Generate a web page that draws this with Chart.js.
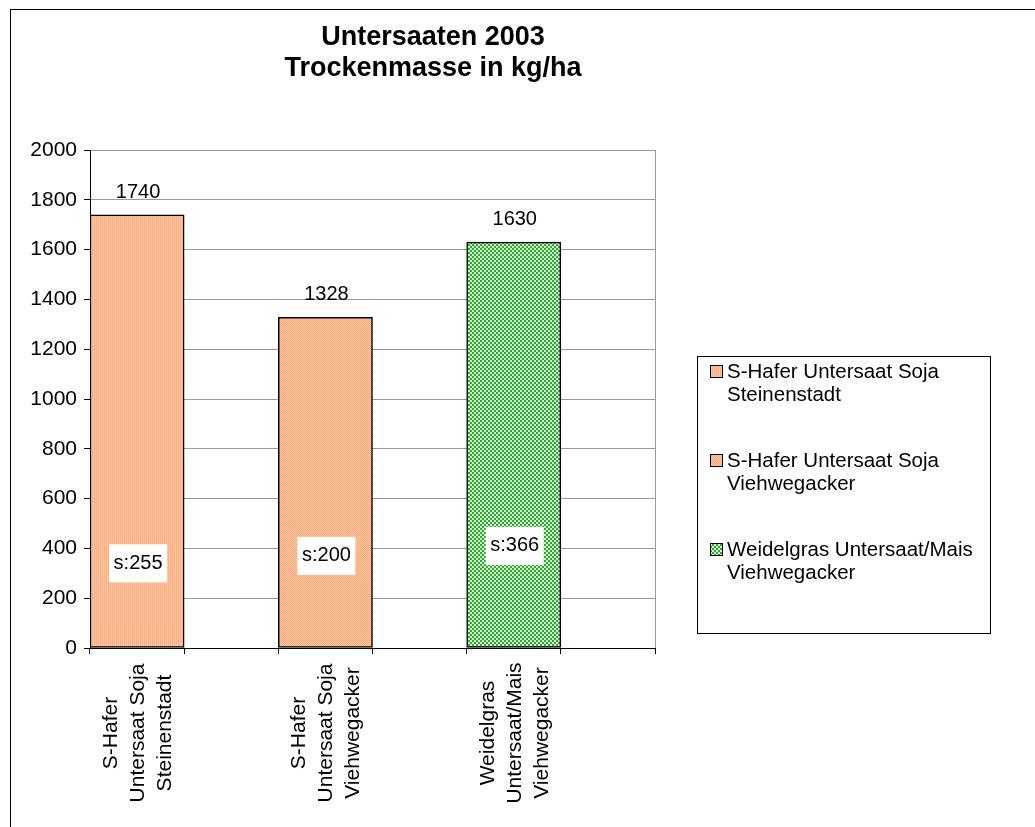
<!DOCTYPE html>
<html>
<head>
<meta charset="utf-8">
<script src="https://cdn.jsdelivr.net/npm/chart.js@4.4.1/dist/chart.umd.min.js"></script>
<style>
html,body{margin:0;padding:0;background:#fff;}
#wrap{position:relative;width:1035px;height:827px;}
canvas{display:block;}
</style>
</head>
<body>
<div id="wrap"><canvas id="c" width="1035" height="827"></canvas></div>
<script>
// ---- data ----
const titleLines = ['Untersaaten 2003', 'Trockenmasse in kg/ha'];
const categories = [
  ['S-Hafer', 'Untersaat Soja', 'Steinenstadt'],
  '',
  ['S-Hafer', 'Untersaat Soja', 'Viehwegacker'],
  '',
  ['Weidelgras', 'Untersaat/Mais', 'Viehwegacker'],
  ''
];
const seriesNames = [
  ['S-Hafer Untersaat Soja', 'Steinenstadt'],
  ['S-Hafer Untersaat Soja', 'Viehwegacker'],
  ['Weidelgras Untersaat/Mais', 'Viehwegacker']
];
const seriesValues = [1740, 1328, 1630];
const seriesIndex = [0, 2, 4];
const sdValues = [255, 200, 366];
const yTicks = [0, 200, 400, 600, 800, 1000, 1200, 1400, 1600, 1800, 2000];

// ---- styles ----
const FONT = '"Liberation Sans", Arial, sans-serif';
const sdLabelAt = [340, 370, 410]; // vertical anchor (axis units) of the s: boxes

function makePattern(kind) {
  const p = document.createElement('canvas');
  const ctx = p.getContext('2d');
  if (kind === 0) {
    p.width = 2; p.height = 2;
    ctx.fillStyle = '#FFC4A0'; ctx.fillRect(0, 0, 2, 2);
    ctx.fillStyle = '#FFAE84'; ctx.fillRect(0, 0, 1, 2);
  } else if (kind === 1) {
    p.width = 2; p.height = 2;
    ctx.fillStyle = '#FFC8A4'; ctx.fillRect(0, 0, 2, 2);
    ctx.fillStyle = '#FFA678'; ctx.fillRect(0, 0, 1, 1); ctx.fillRect(1, 1, 1, 1);
  } else {
    p.width = 4; p.height = 4;
    ctx.fillStyle = '#D4F0D4'; ctx.fillRect(0, 0, 4, 4);
    ctx.fillStyle = '#2EA82E'; ctx.fillRect(0, 0, 2, 2); ctx.fillRect(2, 2, 2, 2);
  }
  return document.getElementById('c').getContext('2d').createPattern(p, 'repeat');
}
const fills = [makePattern(0), makePattern(1), makePattern(2)];

const datasets = seriesNames.map((name, i) => {
  const d = categories.map(() => null);
  d[seriesIndex[i]] = seriesValues[i];
  return {
    label: name.join(' '),
    data: d,
    backgroundColor: fills[i],
    borderColor: '#000',
    borderWidth: 1.5,
    borderSkipped: false,
    grouped: false,
    barPercentage: 1,
    categoryPercentage: 1
  };
});

const framePlugin = {
  id: 'frame',
  beforeDraw(chart) {
    const ctx = chart.ctx;
    ctx.save();
    ctx.fillStyle = '#fff';
    ctx.fillRect(0, 0, chart.width, chart.height);
    ctx.strokeStyle = '#000';
    ctx.lineWidth = 1;
    ctx.strokeRect(10.5, 9.5, 1100, 900);
    ctx.restore();
  },
  afterDraw(chart) {
    const ctx = chart.ctx;
    const a = chart.chartArea;
    ctx.save();
    // plot area right border
    ctx.strokeStyle = '#999';
    ctx.lineWidth = 1;
    ctx.beginPath();
    ctx.moveTo(Math.round(a.right) + 0.5, a.top);
    ctx.lineTo(Math.round(a.right) + 0.5, a.bottom);
    ctx.stroke();

    // title
    ctx.fillStyle = '#000';
    ctx.textAlign = 'center';
    ctx.textBaseline = 'middle';
    ctx.font = 'bold 27px ' + FONT;
    ctx.fillText(titleLines[0], 433, 38);
    ctx.fillText(titleLines[1], 433, 69);

    // value labels & sd boxes
    const ys = chart.scales.y;
    ctx.font = '20px ' + FONT;
    chart.data.datasets.forEach((ds, i) => {
      const meta = chart.getDatasetMeta(i);
      const bar = meta.data[seriesIndex[i]];
      if (!bar) return;
      ctx.fillStyle = '#000';
      ctx.textBaseline = 'alphabetic';
      ctx.fillText(String(seriesValues[i]), bar.x + 1, bar.y - 17);
      const yc = ys.getPixelForValue(sdLabelAt[i]);
      ctx.fillStyle = '#fff';
      ctx.fillRect(bar.x - 28, yc - 19, 58, 38);
      ctx.fillStyle = '#000';
      ctx.textBaseline = 'middle';
      ctx.fillText('s:' + sdValues[i], bar.x + 1, yc);
    });

    // x category labels (rotated, centered lines)
    const xs = chart.scales.x;
    ctx.font = '21px ' + FONT;
    categories.forEach((lab, i) => {
      if (!lab || !lab.length) return;
      const cx = xs.getPixelForValue(i) + 1;
      const n = lab.length;
      const lh = 27;
      lab.forEach((line, j) => {
        ctx.save();
        ctx.translate(cx + (j - (n - 1) / 2) * lh, 733);
        ctx.rotate(-Math.PI / 2);
        ctx.textAlign = 'center';
        ctx.textBaseline = 'middle';
        ctx.fillText(line, 0, 0);
        ctx.restore();
      });
    });

    // legend
    const lx = 697, ly = 356, lw = 293, lh2 = 277;
    ctx.fillStyle = '#fff';
    ctx.fillRect(lx, ly, lw, lh2);
    ctx.strokeStyle = '#000';
    ctx.lineWidth = 1;
    ctx.strokeRect(lx + 0.5, ly + 0.5, lw, lh2);
    ctx.font = '20.5px ' + FONT;
    ctx.textAlign = 'left';
    ctx.textBaseline = 'middle';
    seriesNames.forEach((name, i) => {
      const y0 = 372 + i * 89;
      ctx.fillStyle = fills[i];
      ctx.fillRect(711, y0 - 6, 11, 11);
      ctx.strokeStyle = '#000';
      ctx.strokeRect(710.5, y0 - 6.5, 12, 12);
      ctx.fillStyle = '#000';
      name.forEach((line, j) => ctx.fillText(line, 727, y0 + j * 23));
    });
    ctx.restore();
  }
};

new Chart(document.getElementById('c'), {
  type: 'bar',
  data: { labels: categories, datasets },
  options: {
    responsive: false,
    animation: false,
    events: [],
    layout: { padding: { left: 20, right: 380, top: 150, bottom: 0 } },
    plugins: { legend: { display: false }, title: { display: false }, tooltip: { enabled: false } },
    scales: {
      x: {
        offset: true,
        ticks: { display: false },
        grid: { offset: true, drawOnChartArea: false, drawTicks: true, tickLength: 6, tickColor: '#000' },
        border: { color: '#000', width: 1 },
        afterFit(s) { s.height = 827 - 648; }
      },
      y: {
        min: 0, max: 2000,
        afterBuildTicks(s) { s.ticks = yTicks.map(v => ({ value: v })); },
        ticks: { color: '#000', font: { family: FONT, size: 21 }, padding: 7, callback: v => String(v) },
        grid: { color: '#999', tickColor: '#000', tickLength: 6 },
        border: { color: '#000', width: 1 },
        afterFit(s) { s.width = 70; }
      }
    }
  },
  plugins: [framePlugin]
});
</script>
</body>
</html>
